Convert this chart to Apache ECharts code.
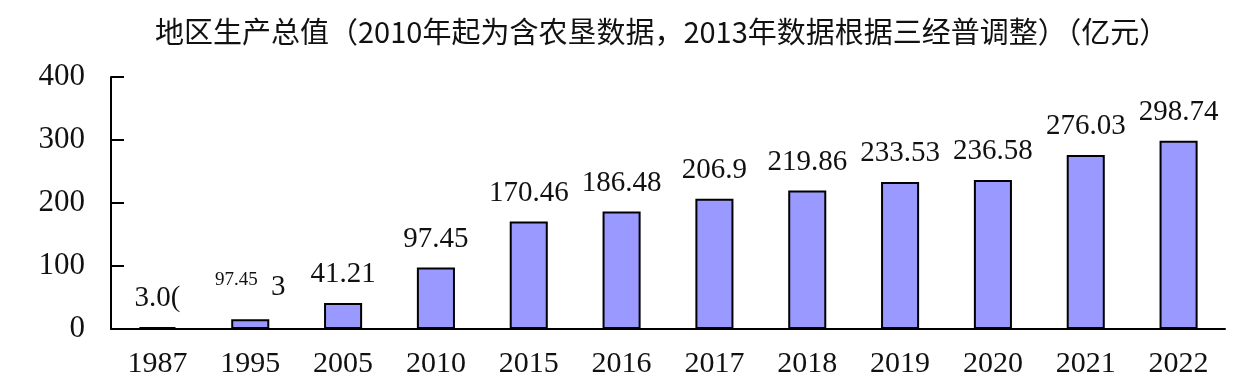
<!DOCTYPE html>
<html><head><meta charset="utf-8">
<script src="https://cdn.jsdelivr.net/npm/echarts@6/dist/echarts.min.js"></script>
<style>html,body{margin:0;padding:0;background:#fff}#c{width:1240px;height:392px}</style>
</head><body><div id="c"></div>
<script>
const categories = ["1987","1995","2005","2010","2015","2016","2017","2018","2019","2020","2021","2022"];
const values = [3.06, 15.5, 41.21, 97.45, 170.46, 186.48, 206.9, 219.86, 233.53, 236.58, 276.03, 298.74];
const labelTexts = ["{b|3.0(}", "{s|97.45}    {b|3}", "{b|41.21}", "{b|97.45}", "{b|170.46}", "{b|186.48}", "{b|206.9}", "{b|219.86}", "{b|233.53}", "{b|236.58}", "{b|276.03}", "{b|298.74}"];
const yTicks = [0, 100, 200, 300, 400];
const titleText = "地区生产总值（2010年起为含农垦数据，2013年数据根据三经普调整）（亿元）";

const serif = '"Liberation Serif", "DejaVu Serif", serif';
const chart = echarts.init(document.getElementById('c'));
chart.setOption({
  animation: false,
  backgroundColor: '#fff',
  title: {
    text: titleText, left: 150, top: 12,
    textStyle: {fontFamily: '"Noto Sans CJK SC", serif', fontSize: 29, fontWeight: 'normal', color: '#111'}
  },
  grid: {left: 111, right: 15, top: 77, bottom: 63, containLabel: false},
  xAxis: {
    type: 'category', data: categories,
    axisLine: {lineStyle: {color: '#000', width: 2}},
    axisTick: {inside: true, length: 13, lineStyle: {color: '#000', width: 2}},
    axisLabel: {color: '#111', fontFamily: serif, fontSize: 30, margin: 20}
  },
  yAxis: {
    type: 'value', min: yTicks[0], max: yTicks[yTicks.length-1], interval: 100,
    splitLine: {show: false},
    axisLine: {show: true, lineStyle: {color: '#000', width: 2}},
    axisTick: {show: true, inside: true, length: 13, lineStyle: {color: '#000', width: 2}},
    axisLabel: {color: '#111', fontFamily: serif, fontSize: 31, margin: 26}
  },
  series: [{
    type: 'bar', data: values, barWidth: '41%',
    itemStyle: {color: '#9999FF', borderColor: '#000', borderWidth: 2},
    label: {
      show: true, position: 'top', distance: 14,
      formatter: p => labelTexts[p.dataIndex],
      rich: {
        b: {fontFamily: serif, fontSize: 29, color: '#111'},
        s: {fontFamily: serif, fontSize: 19, color: '#111', verticalAlign: 'top', padding: [0,0,16,0]}
      }
    }
  }]
});
</script></body></html>
